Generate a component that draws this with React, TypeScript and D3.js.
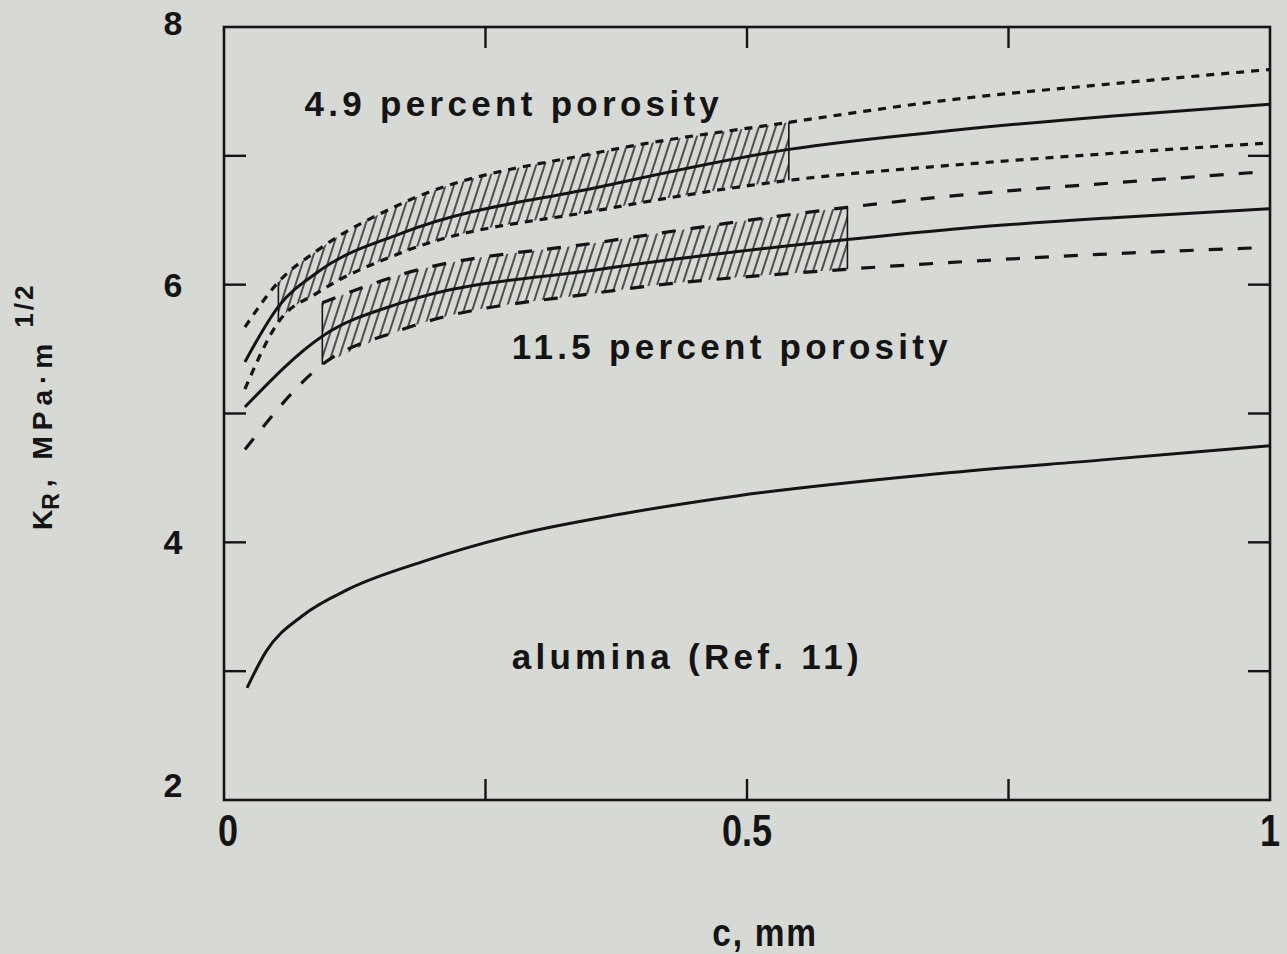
import * as d3 from "d3";

// 4.9 percent porosity band (upper / mean / lower on one c grid)
const c49 = [0.02, 0.052, 0.09, 0.17, 0.36, 0.54, 0.7, 0.85, 1.0];
const k49Upper = [5.67, 6.02, 6.27, 6.63, 7.03, 7.26, 7.44, 7.56, 7.67];
const k49Mid = [5.4, 5.83, 6.1, 6.4, 6.76, 7.05, 7.2, 7.31, 7.4];
const k49Lower = [5.19, 5.71, 5.94, 6.25, 6.58, 6.81, 6.93, 7.02, 7.1];
const hatch49 = [0.052, 0.54];
const dashEnd49 = 1.0;

// 11.5 percent porosity band (upper bound only drawn from the hatch start)
const c115 = [0.02, 0.094, 0.17, 0.36, 0.596, 0.71, 0.85, 1.0];
const k115Upper = [null, 5.86, 6.08, 6.33, 6.6, 6.7, 6.79, 6.88];
const k115Mid = [5.05, 5.6, 5.86, 6.12, 6.35, 6.44, 6.52, 6.59];
const k115Lower = [4.72, 5.38, 5.65, 5.94, 6.12, 6.18, 6.24, 6.29];
const hatch115 = [0.094, 0.596];
const dashEnd115 = 0.984;

// alumina (Ref. 11)
const cAl = [0.022, 0.04, 0.075, 0.12, 0.19, 0.28, 0.38, 0.49, 0.68, 0.84, 1.0];
const kAl = [2.87, 3.15, 3.43, 3.64, 3.85, 4.06, 4.22, 4.36, 4.53, 4.64, 4.75];

const xTicks = [0.25, 0.5, 0.75];
const xLabels = ["0", "0.5", "1"];
const yTicks = [3, 4, 5, 6, 7];
const yLabels = ["2", "4", "6", "8"];

const notes = [
  { text: "4.9 percent porosity", c: 0.077, k: 7.31 },
  { text: "11.5 percent porosity", c: 0.275, k: 5.42 },
  { text: "alumina (Ref. 11)", c: 0.275, k: 3.02 },
];

const W = 1287;
const H = 954;
const BG = "#d7d9d4";
const INK = "#141414";
const FONT = "'Liberation Sans', Arial, sans-serif";

type K = number | null;

export default function App() {
  const x = d3.scaleLinear().domain([0, 1]).range([224, 1270]);
  const y = d3.scaleLinear().domain([2, 8]).range([800, 27]);

  const line = (cs: number[], ks: K[]) =>
    d3
      .line<K>()
      .defined((d) => d != null)
      .x((_, i) => x(cs[i]))
      .y((d) => y(d as number))
      .curve(d3.curveMonotoneX)(ks) || "";

  const area = (cs: number[], lo: K[], hi: K[]) =>
    d3
      .area<number>()
      .defined((_, i) => lo[i] != null && hi[i] != null)
      .x((d) => x(d))
      .y0((_, i) => y(lo[i] as number))
      .y1((_, i) => y(hi[i] as number))
      .curve(d3.curveMonotoneX)(cs) || "";

  // value of a band edge at one of its own grid points
  const at = (cs: number[], ks: K[], c: number) => ks[cs.indexOf(c)] as number;

  const [x0, x1] = x.range();
  const [yb, yt] = y.range();

  const bands = [
    { id: "b49", cs: c49, up: k49Upper, mid: k49Mid, lo: k49Lower, hatch: hatch49, end: dashEnd49, dash: "8,7" },
    { id: "b115", cs: c115, up: k115Upper, mid: k115Mid, lo: k115Lower, hatch: hatch115, end: dashEnd115, dash: "14,15" },
  ];

  return (
    <svg
      width={W}
      height={H}
      style={{ position: "absolute", left: 0, top: 0, background: BG }}
    >
      <defs>
        <pattern
          id="hatch"
          patternUnits="userSpaceOnUse"
          width={8}
          height={12}
          patternTransform="rotate(18)"
        >
          <line x1={1} y1={0} x2={1} y2={12} stroke={INK} strokeWidth={1.4} />
        </pattern>
        {bands.map((b) => (
          <g key={b.id}>
            <clipPath id={`clip-${b.id}`}>
              <rect
                x={x(b.hatch[0])}
                y={yt}
                width={x(b.hatch[1]) - x(b.hatch[0])}
                height={yb - yt}
              />
            </clipPath>
            <clipPath id={`end-${b.id}`}>
              <rect x={x0} y={yt} width={x(b.end) - x0} height={yb - yt} />
            </clipPath>
          </g>
        ))}
      </defs>
      <rect x={0} y={0} width={W} height={H} fill={BG} />

      {bands.map((b) => (
        <g key={b.id}>
          <path
            d={area(b.cs, b.lo, b.up)}
            fill="url(#hatch)"
            clipPath={`url(#clip-${b.id})`}
          />
          {b.hatch.map((c) => (
            <line
              key={c}
              x1={x(c)}
              x2={x(c)}
              y1={y(at(b.cs, b.lo, c))}
              y2={y(at(b.cs, b.up, c))}
              stroke={INK}
              strokeWidth={1.6}
            />
          ))}
          <g clipPath={`url(#end-${b.id})`}>
            <path d={line(b.cs, b.up)} fill="none" stroke={INK} strokeWidth={3.2} strokeDasharray={b.dash} />
            <path d={line(b.cs, b.lo)} fill="none" stroke={INK} strokeWidth={3.2} strokeDasharray={b.dash} />
          </g>
          <path d={line(b.cs, b.mid)} fill="none" stroke={INK} strokeWidth={3} />
        </g>
      ))}

      <path d={line(cAl, kAl)} fill="none" stroke={INK} strokeWidth={3} />

      {/* frame and ticks */}
      <rect x={x0} y={yt} width={x1 - x0} height={yb - yt} fill="none" stroke={INK} strokeWidth={2.6} />
      {xTicks.map((t) => (
        <g key={t}>
          <line x1={x(t)} x2={x(t)} y1={yb} y2={yb - 21} stroke={INK} strokeWidth={2.4} />
          <line x1={x(t)} x2={x(t)} y1={yt} y2={yt + 21} stroke={INK} strokeWidth={2.4} />
        </g>
      ))}
      {yTicks.map((t) => (
        <g key={t}>
          <line x1={x0} x2={x0 + 22} y1={y(t)} y2={y(t)} stroke={INK} strokeWidth={2.4} />
          <line x1={x1} x2={x1 - 22} y1={y(t)} y2={y(t)} stroke={INK} strokeWidth={2.4} />
        </g>
      ))}

      {xLabels.map((l) => (
        <text
          key={l}
          transform={`translate(${x(+l) + (l === "0" ? 4 : 0)},${yb + 46}) scale(0.82,1)`}
          textAnchor="middle"
          fontFamily={FONT}
          fontWeight="bold"
          fontSize={44}
          fill={INK}
        >
          {l}
        </text>
      ))}
      {yLabels.map((l) => (
        <text
          key={l}
          x={173}
          y={y(+l) + (l === "2" ? -3 : l === "8" ? 8 : 12)}
          textAnchor="middle"
          fontFamily={FONT}
          fontWeight="bold"
          fontSize={34}
          fill={INK}
        >
          {l}
        </text>
      ))}

      <text
        transform={`translate(${(x0 + x1) / 2 + 18},946) scale(0.88,1)`}
        textAnchor="middle"
        fontFamily={FONT}
        fontWeight="bold"
        fontSize={38}
        letterSpacing={2}
        fill={INK}
      >
        c, mm
      </text>

      <text
        transform="translate(52,530) rotate(-90)"
        fontFamily={FONT}
        fontWeight="bold"
        fontSize={28}
        fill={INK}
      >
        K
        <tspan dy={7} fontSize={23} letterSpacing={6}>R</tspan>
        <tspan dy={-7} letterSpacing={6}>, MPa·m</tspan>
        <tspan dy={-19} dx={10} fontSize={26} letterSpacing={3}>1/2</tspan>
      </text>

      {notes.map((n) => (
        <text
          key={n.text}
          x={x(n.c)}
          y={y(n.k)}
          fontFamily={FONT}
          fontWeight="bold"
          fontSize={35}
          letterSpacing={4.3}
          fill={INK}
        >
          {n.text}
        </text>
      ))}
    </svg>
  );
}
